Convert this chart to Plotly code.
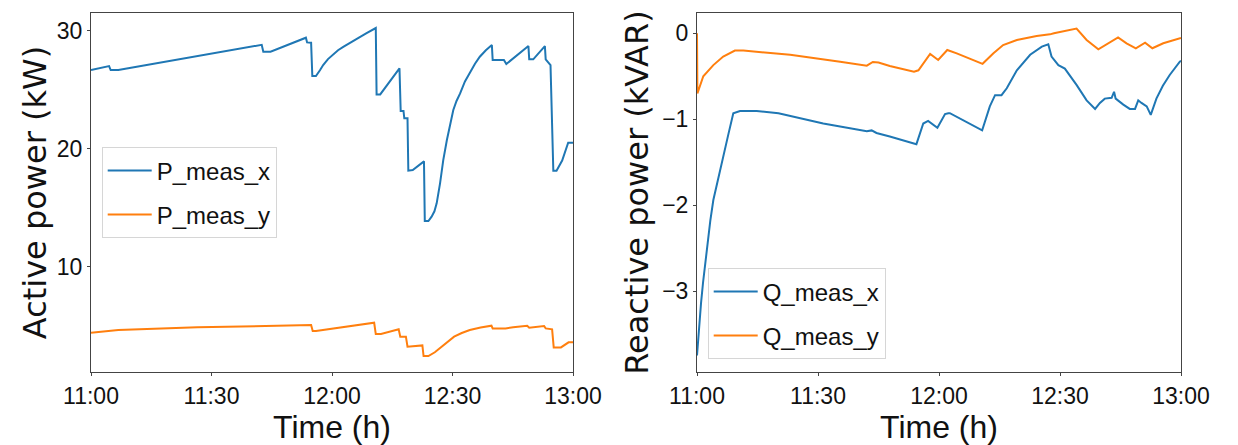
import pandas as pd
import plotly.graph_objects as go

# ---------------- data (time in minutes after 11:00) ----------------
p_x_t = [0, 4.5, 4.9, 6.8, 42.5, 42.9, 44.7, 53.5, 53.8, 54.8, 55.1, 56.0, 57.0, 57.8, 59.0,
         60.3, 61.5, 62.8, 64.5, 66.1, 68.5, 70.9, 71.1, 72.0, 76.8, 77.1, 77.8, 78.0, 78.8,
         79.0, 80.1, 82.9, 83.1, 84.0, 84.8, 85.5, 86.06, 86.9, 87.7, 88.6, 89.4, 90.2, 91.0,
         91.9, 93.1, 94.4, 95.6, 96.8, 98.3, 99.8, 100.0, 102.8, 103.4, 108.9, 109.1, 110.1,
         113.0, 113.2, 113.85, 114.4, 115.1, 115.9, 117.3, 118.8, 120]
p_x_v = [26.67, 27.0, 26.67, 26.67, 28.81, 28.22, 28.22, 29.41, 29.01, 28.98, 26.16, 26.16, 26.65,
         27.09, 27.6, 28.0, 28.35, 28.64, 29.0, 29.3, 29.78, 30.23, 24.6, 24.6, 26.81, 23.2,
         23.2, 22.58, 22.58, 18.14, 18.2, 18.93, 13.87, 13.87, 14.24, 14.7, 15.37, 17.07, 19.04,
         20.74, 22.15, 23.28, 24.05, 24.69, 25.7, 26.53, 27.2, 27.8, 28.35, 28.79, 27.52,
         27.52, 27.18, 28.7, 27.58, 27.58, 28.7, 27.58, 27.35, 27.09, 18.14, 18.14, 19.0,
         20.51, 20.5]

p_y_t = [0, 6.8, 26.5, 46.1, 54.8, 55.2, 56.0, 70.5, 70.9, 72.2, 76.6, 77.0, 78.4, 78.8, 82.5,
         82.8, 84.0, 85.6, 87.4, 88.9, 90.4, 92.3, 94.3, 97.0, 99.7, 100.0, 103.2, 105.1,
         108.6, 109.1, 112.8, 113.2, 114.8, 115.2, 117.0, 118.9, 120]
p_y_v = [4.41, 4.63, 4.86, 4.97, 5.06, 4.55, 4.55, 5.25, 4.29, 4.29, 4.69, 4.07, 4.07, 3.22, 3.33,
         2.43, 2.43, 2.75, 3.22, 3.68, 4.07, 4.38, 4.63, 4.85, 5.0, 4.77, 4.77, 4.86, 5.0, 4.83,
         4.97, 4.77, 4.69, 3.16, 3.16, 3.59, 3.59]

q_x_t = [0, 0.5, 1.0, 1.5, 2.5, 3.3, 4.05, 5.3, 6.5, 7.8, 9.0, 10.66, 14.8, 20.2, 31.3, 42.1,
         43.3, 44.5, 47.8, 53.6, 54.4, 56.1, 57.3, 59.6, 61.5, 62.3, 62.7, 70.7, 72.6, 73.9,
         75.5, 76.8, 79.3, 82.6, 85.5, 87.1, 87.9, 89.6, 91.2, 94.1, 96.6, 98.7, 99.9, 101.1,
         102.8, 103.4, 103.8, 105.7, 107.3, 108.6, 109.4, 110.2, 111.5, 112.5, 113.9, 115.5,
         117.2, 119.7, 120]
q_x_v = [-3.75, -3.42, -3.14, -2.9, -2.47, -2.18, -1.94, -1.67, -1.435, -1.17, -0.93, -0.904,
         -0.904, -0.93, -1.05, -1.14, -1.13, -1.16, -1.20, -1.28, -1.29, -1.05, -1.02, -1.10,
         -0.94, -0.93, -0.93, -1.13, -0.85, -0.72, -0.72, -0.64, -0.43, -0.25, -0.155, -0.128,
         -0.27, -0.37, -0.41, -0.60, -0.78, -0.88, -0.81, -0.76, -0.75, -0.68, -0.76, -0.83,
         -0.88, -0.88, -0.78, -0.81, -0.85, -0.95, -0.76, -0.61, -0.485, -0.33, -0.32]

q_y_t = [0, 0.1, 1.56, 4.05, 6.5, 9.4, 11.5, 23.1, 35.5, 42.1, 43.6, 45.0, 47.8, 53.8, 54.9,
         57.8, 59.8, 62.05, 64.4, 70.8, 73.5, 75.9, 79.3, 84.2, 87.5, 88.5, 94.1, 96.6, 99.5,
         102.4, 104.4, 106.5, 108.8, 111.1, 112.9, 115.6, 119.7, 120]
q_y_v = [0.0, -0.70, -0.50, -0.37, -0.27, -0.20, -0.20, -0.25, -0.33, -0.377, -0.334, -0.34,
         -0.38, -0.446, -0.43, -0.24, -0.31, -0.194, -0.233, -0.355, -0.233, -0.136, -0.078,
         -0.031, -0.012, 0.0, 0.055, -0.078, -0.186, -0.098, -0.047, -0.116, -0.174, -0.109,
         -0.174, -0.116, -0.058, -0.055]

x_tick_minutes = [0, 30, 60, 90, 120]
x_tick_labels = ["11:00", "11:30", "12:00", "12:30", "13:00"]
p_ticks = [10, 20, 30]
q_ticks = [0, -1, -2, -3]

# ---------------- helpers ----------------
base = pd.Timestamp("2021-01-01 11:00")


def to_time(minutes):
    return base + pd.to_timedelta(minutes, unit="min")


BLUE = "#1f77b4"
ORANGE = "#ff7f0e"
SANS = "Liberation Sans, Arial, sans-serif"
TICK_FONT = dict(family=SANS, size=23, color="#111111")
AX_COLOR = "#444444"

fig = go.Figure()
fig.add_trace(go.Scatter(x=to_time(p_x_t), y=p_x_v, mode="lines", name="P_meas_x",
                         line=dict(color=BLUE, width=2), xaxis="x", yaxis="y",
                         legend="legend", legendgroup="a"))
fig.add_trace(go.Scatter(x=to_time(p_y_t), y=p_y_v, mode="lines", name="P_meas_y",
                         line=dict(color=ORANGE, width=2), xaxis="x", yaxis="y",
                         legend="legend", legendgroup="b"))
fig.add_trace(go.Scatter(x=to_time(q_x_t), y=q_x_v, mode="lines", name="Q_meas_x",
                         line=dict(color=BLUE, width=2), xaxis="x2", yaxis="y2",
                         legend="legend2", legendgroup="c"))
fig.add_trace(go.Scatter(x=to_time(q_y_t), y=q_y_v, mode="lines", name="Q_meas_y",
                         line=dict(color=ORANGE, width=2), xaxis="x2", yaxis="y2",
                         legend="legend2", legendgroup="d"))

W, H = 1238, 445
y_dom = [1 - 372.3 / H, 1 - 12.7 / H]

common_x = dict(
    range=[to_time(0), to_time(120)],
    tickvals=to_time(x_tick_minutes), ticktext=x_tick_labels,
    showline=True, linecolor=AX_COLOR, linewidth=1, mirror=True,
    ticks="outside", ticklen=3, tickcolor=AX_COLOR, automargin=False,
    showgrid=False, zeroline=False, tickfont=TICK_FONT,
    title=dict(text="Time (h)", font=dict(family=SANS, size=32, color="#111111"), standoff=7),
)
common_y = dict(
    showline=True, linecolor=AX_COLOR, linewidth=1, mirror=True,
    ticks="outside", ticklen=3, tickcolor=AX_COLOR, automargin=False,
    showgrid=False, zeroline=False, tickfont=TICK_FONT,
)
legend_common = dict(
    font=dict(family=SANS, size=24, color="#111111"),
    bgcolor="rgba(255,255,255,0.8)", bordercolor="#d6d6d6", borderwidth=1,
    xanchor="left", yanchor="top", itemwidth=44, tracegroupgap=10,
)

fig.update_layout(
    width=W, height=H,
    margin=dict(l=0, r=0, t=0, b=0),
    paper_bgcolor="white", plot_bgcolor="white",
    xaxis=dict(domain=[91 / W, 573 / W], anchor="y", **common_x),
    yaxis=dict(domain=y_dom, anchor="x", range=[1.05, 31.53], tickvals=p_ticks,
               title=dict(text="Active power (kW)",
                          font=dict(family="DejaVu Sans", size=32, color="#111111"),
                          standoff=0),
               **common_y),
    xaxis2=dict(domain=[697 / W, 1181 / W], anchor="y2", **common_x),
    yaxis2=dict(domain=y_dom, anchor="x2", range=[-3.945, 0.24], tickvals=q_ticks,
                title=dict(text="Reactive power (kVAR)",
                           font=dict(family="DejaVu Sans", size=32, color="#111111"),
                           standoff=3),
                **common_y),
    legend=dict(x=101.7 / W, y=1 - 147.3 / H, **legend_common),
    legend2=dict(x=707.7 / W, y=1 - 268.3 / H, **legend_common),
)

fig.write_html("out.html")
